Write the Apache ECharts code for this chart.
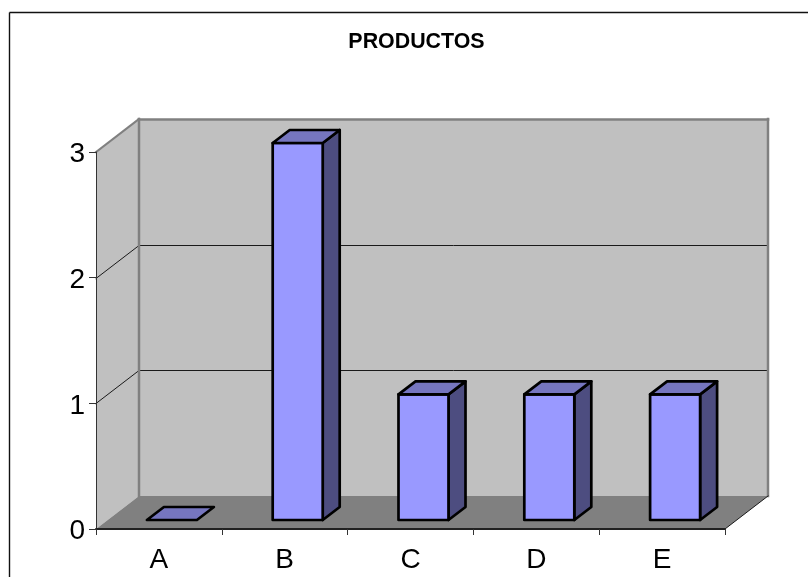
<!DOCTYPE html>
<html>
<head>
<meta charset="utf-8">
<style>html,body{margin:0;padding:0;background:#fff}#chart{width:808px;height:577px}</style>
<script src="https://cdn.jsdelivr.net/npm/echarts@6/dist/echarts.min.js"></script>
</head>
<body>
<div id="chart"></div>
<script>
const chartTitle = 'PRODUCTOS';
const categories = ['A', 'B', 'C', 'D', 'E'];
const values = [0, 3, 1, 1, 1];
const innerGridValues = [1, 2];

// Oblique projection used for the box and the columns
const boxDepth = [43, -33];
const barDepth = [17, -13];
const barShift = [13, -9];
const barWidth = 50;

const colors = {
  wall: '#c0c0c0', wallEdge: '#808080', floor: '#808080',
  front: '#9999ff', top: '#7676bf', side: '#4d4d80', ink: '#000000', rule: '#1a1a1a'
};

const poly = (points, fill, stroke, width) => ({
  type: 'polygon',
  shape: { points },
  style: { fill, stroke: stroke || 'none', lineWidth: width || 0, lineJoin: 'round' }
});
const seg = (a, b, stroke, width) => ({
  type: 'line',
  shape: { x1: a[0], y1: a[1], x2: b[0], y2: b[1] },
  style: { stroke, lineWidth: width, lineCap: 'square' }
});

function renderBox(params, api) {
  const g = params.coordSys;
  const [dx, dy] = boxDepth;
  const L = g.x, R = g.x + g.width, T = g.y, B = g.y + g.height;
  const children = [
    poly([[L, T], [L + dx, T + dy], [L + dx, B + dy], [L, B]], colors.wall),
    poly([[L + dx, T + dy], [R + dx, T + dy], [R + dx, B + dy], [L + dx, B + dy]], colors.wall),
    poly([[L, B], [L + dx, B + dy], [R + dx, B + dy], [R, B]], colors.floor)
  ];
  innerGridValues.forEach(v => {
    const y = Math.round(api.coord([0, v])[1]) + 0.5;
    children.push(seg([L, y], [L + dx, y + dy], colors.rule, 1));
    children.push(seg([L + dx, y + dy], [R + dx, y + dy], colors.rule, 1));
  });
  children.push(seg([L, T], [L + dx, T + dy], colors.wallEdge, 2));
  children.push(seg([L + dx, T + dy + 0.5], [R + dx, T + dy + 0.5], colors.wallEdge, 2.5));
  children.push(seg([L + dx, T + dy], [L + dx, B + dy], colors.wallEdge, 2.5));
  children.push(seg([R + dx, T + dy], [R + dx, B + dy], colors.wallEdge, 2.5));
  children.push(seg([R, B], [R + dx, B + dy], colors.rule, 1));
  return { type: 'group', children };
}

function renderColumn(params, api) {
  const idx = api.value(0);
  const base = api.coord([idx, 0]);
  const head = api.coord([idx, api.value(1)]);
  const x0 = base[0] + barShift[0] - barWidth / 2;
  const x1 = x0 + barWidth;
  const yb = base[1] + barShift[1];
  const yt = head[1] + barShift[1];
  const [dx, dy] = barDepth;
  const stroke = colors.ink, w = 2.7;
  const children = [];
  if (yb - yt > 0.5) {
    children.push(poly([[x1, yt], [x1 + dx, yt + dy], [x1 + dx, yb + dy], [x1, yb]], colors.side, stroke, w));
    children.push(poly([[x0, yt], [x1, yt], [x1, yb], [x0, yb]], colors.front, stroke, w));
  }
  children.push(poly([[x0, yt], [x0 + dx, yt + dy], [x1 + dx, yt + dy], [x1, yt]], colors.top, stroke, w));
  return { type: 'group', children };
}

const chart = echarts.init(document.getElementById('chart'), null, { renderer: 'canvas' });
chart.setOption({
  animation: false,
  backgroundColor: '#ffffff',
  textStyle: { fontFamily: '"Liberation Sans", Arial, sans-serif' },
  title: {
    text: chartTitle,
    left: 411.5, top: 27, textAlign: 'center',
    textStyle: { fontFamily: '"Liberation Sans", Arial, sans-serif', fontSize: 21.4, fontWeight: 'bold', color: '#000' }
  },
  grid: { left: 96, top: 152, width: 629, height: 377 },
  xAxis: {
    type: 'category',
    data: categories,
    z: 5,
    axisLine: { lineStyle: { color: '#222', width: 2 } },
    axisTick: { show: true, alignWithLabel: false, length: 6, lineStyle: { color: '#333', width: 1 } },
    axisLabel: { fontSize: 28, color: '#000', margin: 17, fontFamily: '"Liberation Sans", Arial, sans-serif' }
  },
  yAxis: {
    type: 'value',
    min: 0, max: 3, interval: 1,
    z: 5,
    axisLine: { show: true, lineStyle: { color: '#333', width: 1 } },
    axisTick: { show: true, length: 7, lineStyle: { color: '#333', width: 1 } },
    axisLabel: {
      fontSize: 28, color: '#000', margin: 11, lineHeight: 5,
      verticalAlign: 'top', verticalAlignMinLabel: 'top', verticalAlignMaxLabel: 'top',
      fontFamily: '"Liberation Sans", Arial, sans-serif'
    },
    splitLine: { show: false }
  },
  series: [
    { type: 'custom', renderItem: renderBox, data: [[0, 0]], z: 1, silent: true, clip: false },
    {
      type: 'custom', renderItem: renderColumn, z: 3, clip: false,
      encode: { x: 0, y: 1 },
      data: values.map((v, i) => [i, v])
    }
  ],
  // Outer chart frame, open to the right and bottom of the page
  graphic: [
    { type: 'line', silent: true, shape: { x1: 9.5, y1: 12.5, x2: 808, y2: 12.5 }, style: { stroke: '#111', lineWidth: 1.4 } },
    { type: 'line', silent: true, shape: { x1: 9.5, y1: 12.5, x2: 9.5, y2: 577 }, style: { stroke: '#111', lineWidth: 1.4 } }
  ]
});
</script>
</body>
</html>
